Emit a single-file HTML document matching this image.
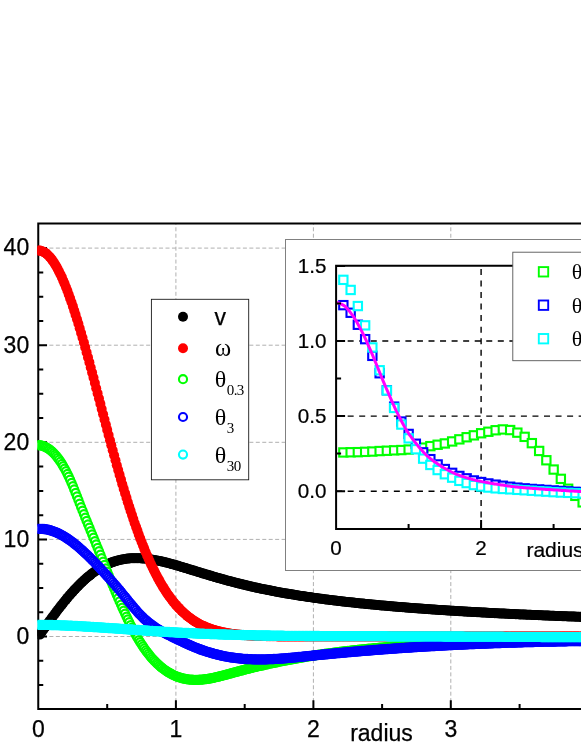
<!DOCTYPE html>
<html><head><meta charset="utf-8"><title>chart</title>
<style>html,body{margin:0;padding:0;background:#fff}svg{display:block;will-change:transform}</style></head>
<body>
<svg width="581" height="752" viewBox="0 0 581 752" style="display:block">
<defs>
<marker id="mk" markerUnits="userSpaceOnUse" markerWidth="14" markerHeight="14" refX="7" refY="7" viewBox="0 0 14 14"><circle cx="7" cy="7" r="5" fill="#000" stroke="none" stroke-width="0"/></marker>
<marker id="mr" markerUnits="userSpaceOnUse" markerWidth="14" markerHeight="14" refX="7" refY="7" viewBox="0 0 14 14"><circle cx="7" cy="7" r="5" fill="#f00" stroke="none" stroke-width="0"/></marker>
<marker id="mg" markerUnits="userSpaceOnUse" markerWidth="14" markerHeight="14" refX="7" refY="7" viewBox="0 0 14 14"><circle cx="7" cy="7" r="4.0" fill="#fff" stroke="#0f0" stroke-width="2.25"/></marker>
<marker id="mb" markerUnits="userSpaceOnUse" markerWidth="14" markerHeight="14" refX="7" refY="7" viewBox="0 0 14 14"><circle cx="7" cy="7" r="4.0" fill="#fff" stroke="#00f" stroke-width="2.3"/></marker>
<marker id="mc" markerUnits="userSpaceOnUse" markerWidth="14" markerHeight="14" refX="7" refY="7" viewBox="0 0 14 14"><circle cx="7" cy="7" r="4.0" fill="#fff" stroke="#0ff" stroke-width="2.3"/></marker>
<clipPath id="cpm"><rect x="37.45" y="222.79999999999998" width="581" height="487.1"/></clipPath>
<clipPath id="cpi"><rect x="336.1" y="265.8" width="581" height="263.2"/></clipPath>
</defs>
<rect width="581" height="752" fill="#fff"/>
<path d="M38.25 636.5H581M38.25 539.4H581M38.25 442.3H581M38.25 345.2H581M38.25 248.1H581" fill="none" stroke="#b0b0b0" stroke-width="1" stroke-dasharray="4 2.45" stroke-dashoffset="1.75"/>
<path d="M175.9 709.1V223.6M313.4 709.1V223.6M450.8 709.1V223.6" fill="none" stroke="#b0b0b0" stroke-width="1" stroke-dasharray="4 2.45" stroke-dashoffset="5.95"/>
<path d="M38.25 685.1h5M38.25 660.8h5M38.25 636.5h8.8M38.25 612.3h5M38.25 588.0h5M38.25 563.7h5M38.25 539.4h8.8M38.25 515.2h5M38.25 490.9h5M38.25 466.6h5M38.25 442.3h8.8M38.25 418.1h5M38.25 393.8h5M38.25 369.5h5M38.25 345.2h8.8M38.25 320.9h5M38.25 296.7h5M38.25 272.4h5M38.25 248.1h8.8M107.2 709.1v-5M175.9 709.1v-8.8M244.7 709.1v-5M313.4 709.1v-8.8M382.1 709.1v-5M450.8 709.1v-8.8M519.6 709.1v-5M588.3 709.1v-8.8" fill="none" stroke="#000" stroke-width="2"/>
<path d="M586 223.6H38.25V709.1H586" fill="none" stroke="#000" stroke-width="2" stroke-linejoin="miter"/>
<g clip-path="url(#cpm)">
<polyline fill="none" stroke="none" points="39.9,634.6 41.2,632.7 42.6,630.7 44.0,628.8 45.4,626.9 46.7,624.9 48.1,623.0 49.5,621.1 50.9,619.2 52.2,617.4 53.6,615.5 55.0,613.7 56.4,611.8 57.7,610.0 59.1,608.2 60.5,606.4 61.9,604.7 63.2,603.0 64.6,601.3 66.0,599.6 67.4,597.9 68.7,596.3 70.1,594.7 71.5,593.1 72.9,591.6 74.2,590.1 75.6,588.6 77.0,587.2 78.4,585.8 79.7,584.4 81.1,583.0 82.5,581.7 83.9,580.4 85.2,579.2 86.6,578.0 88.0,576.8 89.4,575.7 90.7,574.6 92.1,573.5 93.5,572.5 94.9,571.5 96.2,570.6 97.6,569.7 99.0,568.8 100.4,568.0 101.7,567.2 103.1,566.4 104.5,565.7 105.9,565.0 107.2,564.3 108.6,563.7 110.0,563.1 111.3,562.6 112.7,562.1 114.1,561.6 115.5,561.2 116.8,560.8 118.2,560.4 119.6,560.0 121.0,559.7 122.3,559.4 123.7,559.2 125.1,559.0 126.5,558.8 127.8,558.6 129.2,558.5 130.6,558.3 132.0,558.3 133.3,558.2 134.7,558.2 136.1,558.2 137.5,558.2 138.8,558.2 140.2,558.3 141.6,558.4 143.0,558.5 144.3,558.6 145.7,558.7 147.1,558.9 148.5,559.0 149.8,559.2 151.2,559.4 152.6,559.7 154.0,559.9 155.3,560.2 156.7,560.4 158.1,560.7 159.5,561.0 160.8,561.3 162.2,561.6 163.6,561.9 165.0,562.3 166.3,562.6 167.7,563.0 169.1,563.3 170.5,563.7 171.8,564.1 173.2,564.5 174.6,564.8 175.9,565.2 177.3,565.6 178.7,566.0 180.1,566.4 181.4,566.9 182.8,567.3 184.2,567.7 185.6,568.1 186.9,568.5 188.3,568.9 189.7,569.4 191.1,569.8 192.4,570.2 193.8,570.6 195.2,571.0 196.6,571.5 197.9,571.9 199.3,572.3 200.7,572.7 202.1,573.2 203.4,573.6 204.8,574.0 206.2,574.4 207.6,574.8 208.9,575.2 210.3,575.6 211.7,576.1 213.1,576.5 214.4,576.9 215.8,577.3 217.2,577.7 218.6,578.1 219.9,578.5 221.3,578.8 222.7,579.2 224.1,579.6 225.4,580.0 226.8,580.4 228.2,580.7 229.6,581.1 230.9,581.5 232.3,581.8 233.7,582.2 235.1,582.5 236.4,582.9 237.8,583.3 239.2,583.6 240.6,583.9 241.9,584.3 243.3,584.6 244.7,584.9 246.0,585.3 247.4,585.6 248.8,585.9 250.2,586.2 251.5,586.6 252.9,586.9 254.3,587.2 255.7,587.5 257.0,587.8 258.4,588.1 259.8,588.4 261.2,588.7 262.5,589.0 263.9,589.2 265.3,589.5 266.7,589.8 268.0,590.1 269.4,590.3 270.8,590.6 272.2,590.9 273.5,591.1 274.9,591.4 276.3,591.7 277.7,591.9 279.0,592.2 280.4,592.4 281.8,592.7 283.2,592.9 284.5,593.2 285.9,593.4 287.3,593.6 288.7,593.9 290.0,594.1 291.4,594.3 292.8,594.6 294.2,594.8 295.5,595.0 296.9,595.2 298.3,595.5 299.7,595.7 301.0,595.9 302.4,596.1 303.8,596.3 305.2,596.5 306.5,596.7 307.9,596.9 309.3,597.1 310.7,597.3 312.0,597.5 313.4,597.7 314.8,597.9 316.1,598.1 317.5,598.3 318.9,598.5 320.3,598.7 321.6,598.8 323.0,599.0 324.4,599.2 325.8,599.4 327.1,599.6 328.5,599.7 329.9,599.9 331.3,600.1 332.6,600.2 334.0,600.4 335.4,600.6 336.8,600.7 338.1,600.9 339.5,601.1 340.9,601.2 342.3,601.4 343.6,601.6 345.0,601.7 346.4,601.9 347.8,602.0 349.1,602.2 350.5,602.3 351.9,602.5 353.3,602.6 354.6,602.8 356.0,602.9 357.4,603.1 358.8,603.2 360.1,603.4 361.5,603.5 362.9,603.6 364.3,603.8 365.6,603.9 367.0,604.0 368.4,604.2 369.8,604.3 371.1,604.4 372.5,604.6 373.9,604.7 375.3,604.8 376.6,605.0 378.0,605.1 379.4,605.2 380.8,605.4 382.1,605.5 383.5,605.6 384.9,605.7 386.2,605.8 387.6,606.0 389.0,606.1 390.4,606.2 391.7,606.3 393.1,606.4 394.5,606.6 395.9,606.7 397.2,606.8 398.6,606.9 400.0,607.0 401.4,607.1 402.7,607.2 404.1,607.3 405.5,607.5 406.9,607.6 408.2,607.7 409.6,607.8 411.0,607.9 412.4,608.0 413.7,608.1 415.1,608.2 416.5,608.3 417.9,608.4 419.2,608.5 420.6,608.6 422.0,608.7 423.4,608.8 424.7,608.9 426.1,609.0 427.5,609.1 428.9,609.2 430.2,609.3 431.6,609.4 433.0,609.5 434.4,609.6 435.7,609.7 437.1,609.8 438.5,609.9 439.9,609.9 441.2,610.0 442.6,610.1 444.0,610.2 445.4,610.3 446.7,610.4 448.1,610.5 449.5,610.6 450.8,610.7 452.2,610.7 453.6,610.8 455.0,610.9 456.3,611.0 457.7,611.1 459.1,611.2 460.5,611.2 461.8,611.3 463.2,611.4 464.6,611.5 466.0,611.6 467.3,611.7 468.7,611.7 470.1,611.8 471.5,611.9 472.8,612.0 474.2,612.0 475.6,612.1 477.0,612.2 478.3,612.3 479.7,612.3 481.1,612.4 482.5,612.5 483.8,612.6 485.2,612.6 486.6,612.7 488.0,612.8 489.3,612.9 490.7,612.9 492.1,613.0 493.5,613.1 494.8,613.2 496.2,613.2 497.6,613.3 499.0,613.4 500.3,613.4 501.7,613.5 503.1,613.6 504.5,613.6 505.8,613.7 507.2,613.8 508.6,613.8 510.0,613.9 511.3,614.0 512.7,614.0 514.1,614.1 515.5,614.2 516.8,614.2 518.2,614.3 519.6,614.4 520.9,614.4 522.3,614.5 523.7,614.5 525.1,614.6 526.4,614.7 527.8,614.7 529.2,614.8 530.6,614.8 531.9,614.9 533.3,615.0 534.7,615.0 536.1,615.1 537.4,615.1 538.8,615.2 540.2,615.3 541.6,615.3 542.9,615.4 544.3,615.4 545.7,615.5 547.1,615.6 548.4,615.6 549.8,615.7 551.2,615.7 552.6,615.8 553.9,615.8 555.3,615.9 556.7,615.9 558.1,616.0 559.4,616.1 560.8,616.1 562.2,616.2 563.6,616.2 564.9,616.3 566.3,616.3 567.7,616.4 569.1,616.4 570.4,616.5 571.8,616.5 573.2,616.6 574.6,616.6 575.9,616.7 577.3,616.7 578.7,616.8 580.1,616.8 581.4,616.9 582.8,616.9 584.2,617.0 585.6,617.0 586.9,617.1 588.3,617.1" marker-start="url(#mk)" marker-mid="url(#mk)" marker-end="url(#mk)"/>
<polyline fill="none" stroke="none" points="38.5,250.5 39.9,250.6 41.2,250.9 42.6,251.4 44.0,252.1 45.4,252.9 46.7,254.0 48.1,255.2 49.5,256.7 50.9,258.3 52.2,260.1 53.6,262.0 55.0,264.2 56.4,266.5 57.7,269.0 59.1,271.7 60.5,274.5 61.9,277.4 63.2,280.6 64.6,283.8 66.0,287.3 67.4,290.8 68.7,294.5 70.1,298.4 71.5,302.3 72.9,306.4 74.2,310.6 75.6,314.9 77.0,319.2 78.4,323.7 79.7,328.3 81.1,333.0 82.5,337.7 83.9,342.5 85.2,347.4 86.6,352.4 88.0,357.4 89.4,362.4 90.7,367.5 92.1,372.6 93.5,377.8 94.9,383.0 96.2,388.2 97.6,393.4 99.0,398.6 100.4,403.9 101.7,409.1 103.1,414.3 104.5,419.6 105.9,424.8 107.2,429.9 108.6,435.1 110.0,440.2 111.3,445.3 112.7,450.3 114.1,455.3 115.5,460.3 116.8,465.2 118.2,470.1 119.6,474.9 121.0,479.6 122.3,484.3 123.7,488.9 125.1,493.4 126.5,497.9 127.8,502.3 129.2,506.6 130.6,510.9 132.0,515.1 133.3,519.1 134.7,523.2 136.1,527.1 137.5,530.9 138.8,534.7 140.2,538.4 141.6,542.0 143.0,545.5 144.3,548.9 145.7,552.2 147.1,555.5 148.5,558.6 149.8,561.7 151.2,564.7 152.6,567.6 154.0,570.4 155.3,573.1 156.7,575.8 158.1,578.4 159.5,580.9 160.8,583.3 162.2,585.6 163.6,587.9 165.0,590.0 166.3,592.1 167.7,594.2 169.1,596.1 170.5,598.0 171.8,599.8 173.2,601.6 174.6,603.2 175.9,604.9 177.3,606.4 178.7,607.9 180.1,609.3 181.4,610.7 182.8,612.0 184.2,613.3 185.6,614.5 186.9,615.6 188.3,616.8 189.7,617.8 191.1,618.8 192.4,619.8 193.8,620.7 195.2,621.6 196.6,622.4 197.9,623.2 199.3,624.0 200.7,624.7 202.1,625.4 203.4,626.0 204.8,626.6 206.2,627.2 207.6,627.8 208.9,628.3 210.3,628.8 211.7,629.3 213.1,629.7 214.4,630.1 215.8,630.5 217.2,630.9 218.6,631.3 219.9,631.6 221.3,631.9 222.7,632.2 224.1,632.5 225.4,632.8 226.8,633.0 228.2,633.2 229.6,633.5 230.9,633.7 232.3,633.9 233.7,634.1 235.1,634.2 236.4,634.4 237.8,634.5 239.2,634.7 240.6,634.8 241.9,634.9 243.3,635.0 244.7,635.2 246.0,635.3 247.4,635.4 248.8,635.4 250.2,635.5 251.5,635.6 252.9,635.7 254.3,635.7 255.7,635.8 257.0,635.9 258.4,635.9 259.8,636.0 261.2,636.0 262.5,636.0 263.9,636.1 265.3,636.1 266.7,636.2 268.0,636.2 269.4,636.2 270.8,636.2 272.2,636.3 273.5,636.3 274.9,636.3 276.3,636.3 277.7,636.4 279.0,636.4 280.4,636.4 281.8,636.4 283.2,636.4 284.5,636.4 285.9,636.4 287.3,636.4 288.7,636.5 290.0,636.5 291.4,636.5 292.8,636.5 294.2,636.5 295.5,636.5 296.9,636.5 298.3,636.5 299.7,636.5 301.0,636.5 302.4,636.5 303.8,636.5 305.2,636.5 306.5,636.5 307.9,636.5 309.3,636.5 310.7,636.5 312.0,636.5 313.4,636.5 314.8,636.5 316.1,636.5 317.5,636.5 318.9,636.5 320.3,636.5 321.6,636.5 323.0,636.5 324.4,636.5 325.8,636.5 327.1,636.5 328.5,636.5 329.9,636.5 331.3,636.5 332.6,636.5 334.0,636.5 335.4,636.5 336.8,636.5 338.1,636.5 339.5,636.5 340.9,636.5 342.3,636.5 343.6,636.5 345.0,636.5 346.4,636.5 347.8,636.5 349.1,636.5 350.5,636.5 351.9,636.5 353.3,636.5 354.6,636.5 356.0,636.5 357.4,636.5 358.8,636.5 360.1,636.5 361.5,636.5 362.9,636.5 364.3,636.5 365.6,636.5 367.0,636.5 368.4,636.5 369.8,636.5 371.1,636.5 372.5,636.5 373.9,636.5 375.3,636.5 376.6,636.5 378.0,636.5 379.4,636.5 380.8,636.5 382.1,636.5 383.5,636.5 384.9,636.5 386.2,636.5 387.6,636.5 389.0,636.5 390.4,636.5 391.7,636.5 393.1,636.5 394.5,636.5 395.9,636.5 397.2,636.5 398.6,636.5 400.0,636.5 401.4,636.5 402.7,636.5 404.1,636.5 405.5,636.5 406.9,636.5 408.2,636.5 409.6,636.5 411.0,636.5 412.4,636.5 413.7,636.5 415.1,636.5 416.5,636.5 417.9,636.5 419.2,636.5 420.6,636.5 422.0,636.5 423.4,636.5 424.7,636.5 426.1,636.5 427.5,636.5 428.9,636.5 430.2,636.5 431.6,636.5 433.0,636.5 434.4,636.5 435.7,636.5 437.1,636.5 438.5,636.5 439.9,636.5 441.2,636.5 442.6,636.5 444.0,636.5 445.4,636.5 446.7,636.5 448.1,636.5 449.5,636.5 450.8,636.5 452.2,636.5 453.6,636.5 455.0,636.5 456.3,636.5 457.7,636.5 459.1,636.5 460.5,636.5 461.8,636.5 463.2,636.5 464.6,636.5 466.0,636.5 467.3,636.5 468.7,636.5 470.1,636.5 471.5,636.5 472.8,636.5 474.2,636.5 475.6,636.5 477.0,636.5 478.3,636.5 479.7,636.5 481.1,636.5 482.5,636.5 483.8,636.5 485.2,636.5 486.6,636.5 488.0,636.5 489.3,636.5 490.7,636.5 492.1,636.5 493.5,636.5 494.8,636.5 496.2,636.5 497.6,636.5 499.0,636.5 500.3,636.5 501.7,636.5 503.1,636.5 504.5,636.5 505.8,636.5 507.2,636.5 508.6,636.5 510.0,636.5 511.3,636.5 512.7,636.5 514.1,636.5 515.5,636.5 516.8,636.5 518.2,636.5 519.6,636.5 520.9,636.5 522.3,636.5 523.7,636.5 525.1,636.5 526.4,636.5 527.8,636.5 529.2,636.5 530.6,636.5 531.9,636.5 533.3,636.5 534.7,636.5 536.1,636.5 537.4,636.5 538.8,636.5 540.2,636.5 541.6,636.5 542.9,636.5 544.3,636.5 545.7,636.5 547.1,636.5 548.4,636.5 549.8,636.5 551.2,636.5 552.6,636.5 553.9,636.5 555.3,636.5 556.7,636.5 558.1,636.5 559.4,636.5 560.8,636.5 562.2,636.5 563.6,636.5 564.9,636.5 566.3,636.5 567.7,636.5 569.1,636.5 570.4,636.5 571.8,636.5 573.2,636.5 574.6,636.5 575.9,636.5 577.3,636.5 578.7,636.5 580.1,636.5 581.4,636.5 582.8,636.5 584.2,636.5 585.6,636.5 586.9,636.5 588.3,636.5" marker-start="url(#mr)" marker-mid="url(#mr)" marker-end="url(#mr)"/>
<polyline fill="none" stroke="none" points="38.5,445.0 39.9,445.2 41.2,445.4 42.6,445.8 44.0,446.3 45.4,446.9 46.7,447.6 48.1,448.5 49.5,449.4 50.9,450.5 52.2,451.7 53.6,453.0 55.0,454.5 56.4,456.1 57.7,457.8 59.1,459.7 60.5,461.7 61.9,463.8 63.2,466.1 64.6,468.5 66.0,471.0 67.4,473.8 68.7,476.6 70.1,479.6 71.5,482.8 72.9,486.1 74.2,489.4 75.6,492.9 77.0,496.4 78.4,499.9 79.7,503.5 81.1,507.0 82.5,510.5 83.9,514.0 85.2,517.5 86.6,520.9 88.0,524.3 89.4,527.6 90.7,531.0 92.1,534.3 93.5,537.7 94.9,541.0 96.2,544.4 97.6,547.8 99.0,551.2 100.4,554.6 101.7,558.1 103.1,561.5 104.5,564.9 105.9,568.3 107.2,571.7 108.6,575.1 110.0,578.5 111.3,581.8 112.7,585.2 114.1,588.5 115.5,591.8 116.8,595.0 118.2,598.2 119.6,601.4 121.0,604.5 122.3,607.6 123.7,610.6 125.1,613.6 126.5,616.6 127.8,619.4 129.2,622.2 130.6,625.0 132.0,627.7 133.3,630.3 134.7,632.8 136.1,635.3 137.5,637.7 138.8,640.0 140.2,642.2 141.6,644.3 143.0,646.4 144.3,648.4 145.7,650.3 147.1,652.2 148.5,653.9 149.8,655.6 151.2,657.3 152.6,658.8 154.0,660.3 155.3,661.7 156.7,663.1 158.1,664.4 159.5,665.6 160.8,666.8 162.2,667.9 163.6,669.0 165.0,670.0 166.3,670.9 167.7,671.8 169.1,672.7 170.5,673.4 171.8,674.2 173.2,674.9 174.6,675.5 175.9,676.1 177.3,676.6 178.7,677.1 180.1,677.5 181.4,677.9 182.8,678.3 184.2,678.6 185.6,678.9 186.9,679.1 188.3,679.3 189.7,679.5 191.1,679.6 192.4,679.7 193.8,679.8 195.2,679.8 196.6,679.8 197.9,679.8 199.3,679.7 200.7,679.6 202.1,679.5 203.4,679.4 204.8,679.2 206.2,679.0 207.6,678.8 208.9,678.6 210.3,678.4 211.7,678.1 213.1,677.8 214.4,677.5 215.8,677.2 217.2,676.9 218.6,676.6 219.9,676.2 221.3,675.9 222.7,675.5 224.1,675.2 225.4,674.8 226.8,674.4 228.2,674.0 229.6,673.7 230.9,673.3 232.3,672.9 233.7,672.5 235.1,672.1 236.4,671.8 237.8,671.4 239.2,671.0 240.6,670.7 241.9,670.3 243.3,670.0 244.7,669.6 246.0,669.2 247.4,668.9 248.8,668.6 250.2,668.2 251.5,667.9 252.9,667.5 254.3,667.2 255.7,666.9 257.0,666.5 258.4,666.2 259.8,665.9 261.2,665.6 262.5,665.3 263.9,665.0 265.3,664.7 266.7,664.3 268.0,664.0 269.4,663.7 270.8,663.4 272.2,663.2 273.5,662.9 274.9,662.6 276.3,662.3 277.7,662.0 279.0,661.7 280.4,661.4 281.8,661.2 283.2,660.9 284.5,660.6 285.9,660.4 287.3,660.1 288.7,659.8 290.0,659.6 291.4,659.3 292.8,659.1 294.2,658.8 295.5,658.6 296.9,658.3 298.3,658.1 299.7,657.8 301.0,657.6 302.4,657.4 303.8,657.1 305.2,656.9 306.5,656.7 307.9,656.4 309.3,656.2 310.7,656.0 312.0,655.8 313.4,655.6 314.8,655.4 316.1,655.1 317.5,654.9 318.9,654.7 320.3,654.5 321.6,654.3 323.0,654.1 324.4,653.9 325.8,653.7 327.1,653.5 328.5,653.4 329.9,653.2 331.3,653.0 332.6,652.8 334.0,652.6 335.4,652.4 336.8,652.3 338.1,652.1 339.5,651.9 340.9,651.7 342.3,651.6 343.6,651.4 345.0,651.2 346.4,651.1 347.8,650.9 349.1,650.8 350.5,650.6 351.9,650.4 353.3,650.3 354.6,650.1 356.0,650.0 357.4,649.8 358.8,649.7 360.1,649.5 361.5,649.4 362.9,649.3 364.3,649.1 365.6,649.0 367.0,648.9 368.4,648.7 369.8,648.6 371.1,648.5 372.5,648.3 373.9,648.2 375.3,648.1 376.6,648.0 378.0,647.8 379.4,647.7 380.8,647.6 382.1,647.5 383.5,647.4 384.9,647.3 386.2,647.2 387.6,647.0 389.0,646.9 390.4,646.8 391.7,646.7 393.1,646.6 394.5,646.5 395.9,646.4 397.2,646.3 398.6,646.2 400.0,646.1 401.4,646.0 402.7,645.9 404.1,645.8 405.5,645.8 406.9,645.7 408.2,645.6 409.6,645.5 411.0,645.4 412.4,645.3 413.7,645.2 415.1,645.2 416.5,645.1 417.9,645.0 419.2,644.9 420.6,644.8 422.0,644.8 423.4,644.7 424.7,644.6 426.1,644.5 427.5,644.5 428.9,644.4 430.2,644.3 431.6,644.3 433.0,644.2 434.4,644.1 435.7,644.1 437.1,644.0 438.5,643.9 439.9,643.9 441.2,643.8 442.6,643.8 444.0,643.7 445.4,643.6 446.7,643.6 448.1,643.5 449.5,643.5 450.8,643.4 452.2,643.4 453.6,643.3 455.0,643.3 456.3,643.2 457.7,643.2 459.1,643.1 460.5,643.1 461.8,643.0 463.2,643.0 464.6,642.9 466.0,642.9 467.3,642.8 468.7,642.8 470.1,642.7 471.5,642.7 472.8,642.7 474.2,642.6 475.6,642.6 477.0,642.5 478.3,642.5 479.7,642.4 481.1,642.4 482.5,642.4 483.8,642.3 485.2,642.3 486.6,642.3 488.0,642.2 489.3,642.2 490.7,642.1 492.1,642.1 493.5,642.1 494.8,642.0 496.2,642.0 497.6,642.0 499.0,641.9 500.3,641.9 501.7,641.9 503.1,641.8 504.5,641.8 505.8,641.8 507.2,641.7 508.6,641.7 510.0,641.7 511.3,641.6 512.7,641.6 514.1,641.6 515.5,641.5 516.8,641.5 518.2,641.5 519.6,641.4 520.9,641.4 522.3,641.4 523.7,641.3 525.1,641.3 526.4,641.3 527.8,641.2 529.2,641.2 530.6,641.2 531.9,641.2 533.3,641.1 534.7,641.1 536.1,641.1 537.4,641.0 538.8,641.0 540.2,641.0 541.6,640.9 542.9,640.9 544.3,640.9 545.7,640.8 547.1,640.8 548.4,640.8 549.8,640.7 551.2,640.7 552.6,640.7 553.9,640.6 555.3,640.6 556.7,640.6 558.1,640.5 559.4,640.5 560.8,640.4 562.2,640.4 563.6,640.4 564.9,640.3 566.3,640.3 567.7,640.3 569.1,640.2 570.4,640.2 571.8,640.1 573.2,640.1 574.6,640.0 575.9,640.0 577.3,640.0 578.7,639.9 580.1,639.9 581.4,639.8 582.8,639.8 584.2,639.7 585.6,639.7 586.9,639.6 588.3,639.6" marker-start="url(#mg)" marker-mid="url(#mg)" marker-end="url(#mg)"/>
<polyline fill="none" stroke="none" points="38.5,528.8 39.9,528.8 41.2,528.8 42.6,528.9 44.0,529.0 45.4,529.2 46.7,529.4 48.1,529.7 49.5,530.0 50.9,530.4 52.2,530.8 53.6,531.3 55.0,531.8 56.4,532.4 57.7,533.0 59.1,533.7 60.5,534.4 61.9,535.1 63.2,535.9 64.6,536.7 66.0,537.6 67.4,538.5 68.7,539.4 70.1,540.4 71.5,541.4 72.9,542.4 74.2,543.5 75.6,544.6 77.0,545.7 78.4,546.9 79.7,548.1 81.1,549.3 82.5,550.5 83.9,551.8 85.2,553.1 86.6,554.4 88.0,555.7 89.4,557.1 90.7,558.4 92.1,559.8 93.5,561.2 94.9,562.6 96.2,564.1 97.6,565.5 99.0,567.0 100.4,568.5 101.7,570.0 103.1,571.4 104.5,573.0 105.9,574.5 107.2,576.0 108.6,577.5 110.0,579.1 111.3,580.6 112.7,582.2 114.1,583.8 115.5,585.3 116.8,587.0 118.2,588.6 119.6,590.2 121.0,591.9 122.3,593.6 123.7,595.3 125.1,597.0 126.5,598.7 127.8,600.4 129.2,602.1 130.6,603.7 132.0,605.4 133.3,607.0 134.7,608.6 136.1,610.2 137.5,611.8 138.8,613.3 140.2,614.7 141.6,616.1 143.0,617.5 144.3,618.8 145.7,620.0 147.1,621.2 148.5,622.3 149.8,623.4 151.2,624.5 152.6,625.5 154.0,626.5 155.3,627.4 156.7,628.3 158.1,629.2 159.5,630.0 160.8,630.8 162.2,631.6 163.6,632.4 165.0,633.1 166.3,633.8 167.7,634.5 169.1,635.2 170.5,635.9 171.8,636.6 173.2,637.3 174.6,637.9 175.9,638.6 177.3,639.3 178.7,639.9 180.1,640.6 181.4,641.2 182.8,641.9 184.2,642.5 185.6,643.2 186.9,643.8 188.3,644.4 189.7,645.0 191.1,645.6 192.4,646.2 193.8,646.8 195.2,647.4 196.6,647.9 197.9,648.4 199.3,649.0 200.7,649.5 202.1,650.0 203.4,650.4 204.8,650.9 206.2,651.4 207.6,651.8 208.9,652.2 210.3,652.6 211.7,653.0 213.1,653.4 214.4,653.8 215.8,654.2 217.2,654.5 218.6,654.9 219.9,655.2 221.3,655.5 222.7,655.8 224.1,656.1 225.4,656.3 226.8,656.6 228.2,656.8 229.6,657.1 230.9,657.3 232.3,657.5 233.7,657.7 235.1,657.9 236.4,658.1 237.8,658.2 239.2,658.4 240.6,658.5 241.9,658.6 243.3,658.8 244.7,658.9 246.0,659.0 247.4,659.0 248.8,659.1 250.2,659.2 251.5,659.2 252.9,659.3 254.3,659.3 255.7,659.3 257.0,659.4 258.4,659.4 259.8,659.4 261.2,659.4 262.5,659.4 263.9,659.3 265.3,659.3 266.7,659.3 268.0,659.2 269.4,659.2 270.8,659.1 272.2,659.1 273.5,659.0 274.9,658.9 276.3,658.9 277.7,658.8 279.0,658.7 280.4,658.6 281.8,658.5 283.2,658.4 284.5,658.3 285.9,658.2 287.3,658.1 288.7,657.9 290.0,657.8 291.4,657.7 292.8,657.6 294.2,657.4 295.5,657.3 296.9,657.2 298.3,657.0 299.7,656.9 301.0,656.8 302.4,656.6 303.8,656.5 305.2,656.3 306.5,656.2 307.9,656.1 309.3,655.9 310.7,655.8 312.0,655.6 313.4,655.5 314.8,655.4 316.1,655.2 317.5,655.1 318.9,654.9 320.3,654.8 321.6,654.7 323.0,654.5 324.4,654.4 325.8,654.3 327.1,654.1 328.5,654.0 329.9,653.9 331.3,653.7 332.6,653.6 334.0,653.5 335.4,653.3 336.8,653.2 338.1,653.1 339.5,653.0 340.9,652.8 342.3,652.7 343.6,652.6 345.0,652.5 346.4,652.3 347.8,652.2 349.1,652.1 350.5,652.0 351.9,651.9 353.3,651.7 354.6,651.6 356.0,651.5 357.4,651.4 358.8,651.3 360.1,651.1 361.5,651.0 362.9,650.9 364.3,650.8 365.6,650.7 367.0,650.6 368.4,650.5 369.8,650.4 371.1,650.3 372.5,650.1 373.9,650.0 375.3,649.9 376.6,649.8 378.0,649.7 379.4,649.6 380.8,649.5 382.1,649.4 383.5,649.3 384.9,649.2 386.2,649.1 387.6,649.0 389.0,648.9 390.4,648.8 391.7,648.7 393.1,648.6 394.5,648.5 395.9,648.4 397.2,648.3 398.6,648.2 400.0,648.1 401.4,648.0 402.7,647.9 404.1,647.8 405.5,647.7 406.9,647.7 408.2,647.6 409.6,647.5 411.0,647.4 412.4,647.3 413.7,647.2 415.1,647.1 416.5,647.0 417.9,646.9 419.2,646.9 420.6,646.8 422.0,646.7 423.4,646.6 424.7,646.5 426.1,646.4 427.5,646.4 428.9,646.3 430.2,646.2 431.6,646.1 433.0,646.0 434.4,646.0 435.7,645.9 437.1,645.8 438.5,645.7 439.9,645.7 441.2,645.6 442.6,645.5 444.0,645.4 445.4,645.4 446.7,645.3 448.1,645.2 449.5,645.2 450.8,645.1 452.2,645.0 453.6,644.9 455.0,644.9 456.3,644.8 457.7,644.7 459.1,644.7 460.5,644.6 461.8,644.5 463.2,644.5 464.6,644.4 466.0,644.4 467.3,644.3 468.7,644.2 470.1,644.2 471.5,644.1 472.8,644.0 474.2,644.0 475.6,643.9 477.0,643.9 478.3,643.8 479.7,643.8 481.1,643.7 482.5,643.6 483.8,643.6 485.2,643.5 486.6,643.5 488.0,643.4 489.3,643.4 490.7,643.3 492.1,643.3 493.5,643.2 494.8,643.2 496.2,643.1 497.6,643.1 499.0,643.0 500.3,643.0 501.7,642.9 503.1,642.9 504.5,642.8 505.8,642.8 507.2,642.7 508.6,642.7 510.0,642.6 511.3,642.6 512.7,642.5 514.1,642.5 515.5,642.5 516.8,642.4 518.2,642.4 519.6,642.3 520.9,642.3 522.3,642.3 523.7,642.2 525.1,642.2 526.4,642.1 527.8,642.1 529.2,642.1 530.6,642.0 531.9,642.0 533.3,642.0 534.7,641.9 536.1,641.9 537.4,641.9 538.8,641.8 540.2,641.8 541.6,641.8 542.9,641.7 544.3,641.7 545.7,641.7 547.1,641.6 548.4,641.6 549.8,641.6 551.2,641.5 552.6,641.5 553.9,641.5 555.3,641.5 556.7,641.4 558.1,641.4 559.4,641.4 560.8,641.4 562.2,641.3 563.6,641.3 564.9,641.3 566.3,641.3 567.7,641.2 569.1,641.2 570.4,641.2 571.8,641.2 573.2,641.1 574.6,641.1 575.9,641.1 577.3,641.1 578.7,641.1 580.1,641.1 581.4,641.0 582.8,641.0 584.2,641.0 585.6,641.0 586.9,641.0 588.3,641.0" marker-start="url(#mb)" marker-mid="url(#mb)" marker-end="url(#mb)"/>
<polyline fill="none" stroke="none" points="38.5,624.8 39.9,624.8 41.2,624.8 42.6,624.8 44.0,624.8 45.4,624.9 46.7,624.9 48.1,624.9 49.5,624.9 50.9,625.0 52.2,625.0 53.6,625.1 55.0,625.1 56.4,625.1 57.7,625.2 59.1,625.2 60.5,625.3 61.9,625.3 63.2,625.4 64.6,625.4 66.0,625.5 67.4,625.6 68.7,625.6 70.1,625.7 71.5,625.7 72.9,625.8 74.2,625.9 75.6,625.9 77.0,626.0 78.4,626.1 79.7,626.2 81.1,626.2 82.5,626.3 83.9,626.4 85.2,626.5 86.6,626.6 88.0,626.6 89.4,626.7 90.7,626.8 92.1,626.9 93.5,627.0 94.9,627.1 96.2,627.1 97.6,627.2 99.0,627.3 100.4,627.4 101.7,627.5 103.1,627.6 104.5,627.7 105.9,627.8 107.2,627.9 108.6,628.0 110.0,628.1 111.3,628.1 112.7,628.2 114.1,628.3 115.5,628.4 116.8,628.5 118.2,628.6 119.6,628.7 121.0,628.8 122.3,628.9 123.7,629.0 125.1,629.1 126.5,629.2 127.8,629.3 129.2,629.4 130.6,629.5 132.0,629.6 133.3,629.7 134.7,629.8 136.1,629.9 137.5,630.0 138.8,630.0 140.2,630.1 141.6,630.2 143.0,630.3 144.3,630.4 145.7,630.5 147.1,630.6 148.5,630.7 149.8,630.8 151.2,630.9 152.6,631.0 154.0,631.1 155.3,631.2 156.7,631.2 158.1,631.3 159.5,631.4 160.8,631.5 162.2,631.6 163.6,631.7 165.0,631.8 166.3,631.8 167.7,631.9 169.1,632.0 170.5,632.1 171.8,632.2 173.2,632.2 174.6,632.3 175.9,632.4 177.3,632.5 178.7,632.6 180.1,632.6 181.4,632.7 182.8,632.8 184.2,632.8 185.6,632.9 186.9,633.0 188.3,633.0 189.7,633.1 191.1,633.2 192.4,633.2 193.8,633.3 195.2,633.4 196.6,633.4 197.9,633.5 199.3,633.6 200.7,633.6 202.1,633.7 203.4,633.7 204.8,633.8 206.2,633.8 207.6,633.9 208.9,633.9 210.3,634.0 211.7,634.0 213.1,634.1 214.4,634.1 215.8,634.2 217.2,634.2 218.6,634.3 219.9,634.3 221.3,634.4 222.7,634.4 224.1,634.5 225.4,634.5 226.8,634.6 228.2,634.6 229.6,634.6 230.9,634.7 232.3,634.7 233.7,634.8 235.1,634.8 236.4,634.8 237.8,634.9 239.2,634.9 240.6,634.9 241.9,635.0 243.3,635.0 244.7,635.1 246.0,635.1 247.4,635.1 248.8,635.1 250.2,635.2 251.5,635.2 252.9,635.2 254.3,635.3 255.7,635.3 257.0,635.3 258.4,635.3 259.8,635.4 261.2,635.4 262.5,635.4 263.9,635.5 265.3,635.5 266.7,635.5 268.0,635.5 269.4,635.5 270.8,635.6 272.2,635.6 273.5,635.6 274.9,635.6 276.3,635.6 277.7,635.7 279.0,635.7 280.4,635.7 281.8,635.7 283.2,635.7 284.5,635.8 285.9,635.8 287.3,635.8 288.7,635.8 290.0,635.8 291.4,635.8 292.8,635.8 294.2,635.9 295.5,635.9 296.9,635.9 298.3,635.9 299.7,635.9 301.0,635.9 302.4,635.9 303.8,635.9 305.2,636.0 306.5,636.0 307.9,636.0 309.3,636.0 310.7,636.0 312.0,636.0 313.4,636.0 314.8,636.0 316.1,636.0 317.5,636.0 318.9,636.0 320.3,636.1 321.6,636.1 323.0,636.1 324.4,636.1 325.8,636.1 327.1,636.1 328.5,636.1 329.9,636.1 331.3,636.1 332.6,636.1 334.0,636.1 335.4,636.1 336.8,636.1 338.1,636.1 339.5,636.1 340.9,636.1 342.3,636.1 343.6,636.1 345.0,636.2 346.4,636.2 347.8,636.2 349.1,636.2 350.5,636.2 351.9,636.2 353.3,636.2 354.6,636.2 356.0,636.2 357.4,636.2 358.8,636.2 360.1,636.2 361.5,636.2 362.9,636.2 364.3,636.2 365.6,636.2 367.0,636.2 368.4,636.2 369.8,636.2 371.1,636.2 372.5,636.2 373.9,636.2 375.3,636.2 376.6,636.2 378.0,636.2 379.4,636.2 380.8,636.2 382.1,636.2 383.5,636.2 384.9,636.2 386.2,636.2 387.6,636.3 389.0,636.3 390.4,636.3 391.7,636.3 393.1,636.3 394.5,636.3 395.9,636.3 397.2,636.3 398.6,636.3 400.0,636.3 401.4,636.3 402.7,636.3 404.1,636.3 405.5,636.3 406.9,636.3 408.2,636.3 409.6,636.3 411.0,636.3 412.4,636.3 413.7,636.3 415.1,636.3 416.5,636.3 417.9,636.3 419.2,636.4 420.6,636.4 422.0,636.4 423.4,636.4 424.7,636.4 426.1,636.4 427.5,636.4 428.9,636.4 430.2,636.4 431.6,636.4 433.0,636.4 434.4,636.4 435.7,636.4 437.1,636.4 438.5,636.4 439.9,636.4 441.2,636.4 442.6,636.4 444.0,636.5 445.4,636.5 446.7,636.5 448.1,636.5 449.5,636.5 450.8,636.5 452.2,636.5 453.6,636.5 455.0,636.5 456.3,636.5 457.7,636.5 459.1,636.5 460.5,636.5 461.8,636.5 463.2,636.5 464.6,636.6 466.0,636.6 467.3,636.6 468.7,636.6 470.1,636.6 471.5,636.6 472.8,636.6 474.2,636.6 475.6,636.6 477.0,636.6 478.3,636.6 479.7,636.6 481.1,636.6 482.5,636.6 483.8,636.6 485.2,636.7 486.6,636.7 488.0,636.7 489.3,636.7 490.7,636.7 492.1,636.7 493.5,636.7 494.8,636.7 496.2,636.7 497.6,636.7 499.0,636.7 500.3,636.7 501.7,636.7 503.1,636.7 504.5,636.8 505.8,636.8 507.2,636.8 508.6,636.8 510.0,636.8 511.3,636.8 512.7,636.8 514.1,636.8 515.5,636.8 516.8,636.8 518.2,636.8 519.6,636.8 520.9,636.8 522.3,636.9 523.7,636.9 525.1,636.9 526.4,636.9 527.8,636.9 529.2,636.9 530.6,636.9 531.9,636.9 533.3,636.9 534.7,636.9 536.1,636.9 537.4,636.9 538.8,636.9 540.2,636.9 541.6,637.0 542.9,637.0 544.3,637.0 545.7,637.0 547.1,637.0 548.4,637.0 549.8,637.0 551.2,637.0 552.6,637.0 553.9,637.0 555.3,637.0 556.7,637.0 558.1,637.0 559.4,637.0 560.8,637.1 562.2,637.1 563.6,637.1 564.9,637.1 566.3,637.1 567.7,637.1 569.1,637.1 570.4,637.1 571.8,637.1 573.2,637.1 574.6,637.1 575.9,637.1 577.3,637.1 578.7,637.1 580.1,637.1 581.4,637.2 582.8,637.2 584.2,637.2 585.6,637.2 586.9,637.2 588.3,637.2" marker-start="url(#mc)" marker-mid="url(#mc)" marker-end="url(#mc)"/>
</g>
<g font-family="Liberation Sans, sans-serif" font-size="23" fill="#000" stroke="#000" stroke-width="0.25">
<text x="29.2" y="643.8" text-anchor="end">0</text>
<text x="29.2" y="546.7" text-anchor="end">10</text>
<text x="29.2" y="449.6" text-anchor="end">20</text>
<text x="29.2" y="352.5" text-anchor="end">30</text>
<text x="29.2" y="255.4" text-anchor="end">40</text>
<text x="38.5" y="737" text-anchor="middle">0</text>
<text x="175.9" y="737" text-anchor="middle">1</text>
<text x="313.4" y="737" text-anchor="middle">2</text>
<text x="450.8" y="737" text-anchor="middle">3</text>
<text x="381.5" y="741" text-anchor="middle">radius</text>
</g>
<rect x="151.4" y="299.3" width="97.3" height="180.5" fill="#fff" stroke="#1a1a1a" stroke-width="0.9"/>
<circle cx="183" cy="316.8" r="5" fill="#000"/>
<circle cx="183" cy="348.2" r="5" fill="#f00"/>
<circle cx="183" cy="379.2" r="4.05" fill="#fff" stroke="#0f0" stroke-width="2.1"/>
<circle cx="183" cy="417" r="4.05" fill="#fff" stroke="#00f" stroke-width="2.1"/>
<circle cx="183" cy="454.6" r="4.05" fill="#fff" stroke="#0ff" stroke-width="2.1"/>
<text x="214.5" y="324.7" font-family="Liberation Sans, sans-serif" font-size="23" stroke="#000" stroke-width="0.25">v</text>
<g font-family="Liberation Serif, serif" fill="#000">
<text x="215" y="356.2" font-size="24.5">ω</text>
<text x="214.8" y="387.1" font-size="24">θ<tspan font-size="15" letter-spacing="-0.6" dx="0.5" dy="8.3">0.3</tspan></text>
<text x="214.8" y="424.9" font-size="24">θ<tspan font-size="15" letter-spacing="-0.6" dx="0.5" dy="8.3">3</tspan></text>
<text x="214.8" y="462.5" font-size="24">θ<tspan font-size="15" letter-spacing="-0.6" dx="0.5" dy="8.3">30</tspan></text>
</g>
<rect x="285.5" y="239.5" width="320" height="331" fill="#fff" stroke="#808080" stroke-width="1"/>
<path d="M336.1 491.2H581M336.1 416.1H581M336.1 341.0H581M481.1 529.0V265.8" fill="none" stroke="#000" stroke-width="1.4" stroke-dasharray="6 5.55"/>
<g clip-path="url(#cpi)">
<rect x="339.2" y="448.3" width="8.3" height="8.3" fill="#fff" stroke="#0f0" stroke-width="2.1"/>
<rect x="346.5" y="448.1" width="8.3" height="8.3" fill="#fff" stroke="#0f0" stroke-width="2.1"/>
<rect x="353.7" y="448.0" width="8.3" height="8.3" fill="#fff" stroke="#0f0" stroke-width="2.1"/>
<rect x="361.0" y="447.7" width="8.3" height="8.3" fill="#fff" stroke="#0f0" stroke-width="2.1"/>
<rect x="368.2" y="447.4" width="8.3" height="8.3" fill="#fff" stroke="#0f0" stroke-width="2.1"/>
<rect x="375.5" y="446.9" width="8.3" height="8.3" fill="#fff" stroke="#0f0" stroke-width="2.1"/>
<rect x="382.7" y="446.6" width="8.3" height="8.3" fill="#fff" stroke="#0f0" stroke-width="2.1"/>
<rect x="390.0" y="446.2" width="8.3" height="8.3" fill="#fff" stroke="#0f0" stroke-width="2.1"/>
<rect x="397.2" y="445.9" width="8.3" height="8.3" fill="#fff" stroke="#0f0" stroke-width="2.1"/>
<rect x="404.5" y="445.4" width="8.3" height="8.3" fill="#fff" stroke="#0f0" stroke-width="2.1"/>
<rect x="411.7" y="444.7" width="8.3" height="8.3" fill="#fff" stroke="#0f0" stroke-width="2.1"/>
<rect x="419.0" y="443.5" width="8.3" height="8.3" fill="#fff" stroke="#0f0" stroke-width="2.1"/>
<rect x="426.2" y="442.0" width="8.3" height="8.3" fill="#fff" stroke="#0f0" stroke-width="2.1"/>
<rect x="433.5" y="440.6" width="8.3" height="8.3" fill="#fff" stroke="#0f0" stroke-width="2.1"/>
<rect x="440.7" y="439.3" width="8.3" height="8.3" fill="#fff" stroke="#0f0" stroke-width="2.1"/>
<rect x="448.0" y="437.3" width="8.3" height="8.3" fill="#fff" stroke="#0f0" stroke-width="2.1"/>
<rect x="455.2" y="435.2" width="8.3" height="8.3" fill="#fff" stroke="#0f0" stroke-width="2.1"/>
<rect x="462.5" y="433.1" width="8.3" height="8.3" fill="#fff" stroke="#0f0" stroke-width="2.1"/>
<rect x="469.7" y="431.2" width="8.3" height="8.3" fill="#fff" stroke="#0f0" stroke-width="2.1"/>
<rect x="477.0" y="429.1" width="8.3" height="8.3" fill="#fff" stroke="#0f0" stroke-width="2.1"/>
<rect x="484.2" y="427.6" width="8.3" height="8.3" fill="#fff" stroke="#0f0" stroke-width="2.1"/>
<rect x="491.5" y="426.1" width="8.3" height="8.3" fill="#fff" stroke="#0f0" stroke-width="2.1"/>
<rect x="498.7" y="425.3" width="8.3" height="8.3" fill="#fff" stroke="#0f0" stroke-width="2.1"/>
<rect x="506.0" y="425.9" width="8.3" height="8.3" fill="#fff" stroke="#0f0" stroke-width="2.1"/>
<rect x="513.2" y="428.5" width="8.3" height="8.3" fill="#fff" stroke="#0f0" stroke-width="2.1"/>
<rect x="520.5" y="432.7" width="8.3" height="8.3" fill="#fff" stroke="#0f0" stroke-width="2.1"/>
<rect x="527.7" y="439.0" width="8.3" height="8.3" fill="#fff" stroke="#0f0" stroke-width="2.1"/>
<rect x="535.0" y="446.8" width="8.3" height="8.3" fill="#fff" stroke="#0f0" stroke-width="2.1"/>
<rect x="542.2" y="456.1" width="8.3" height="8.3" fill="#fff" stroke="#0f0" stroke-width="2.1"/>
<rect x="549.5" y="465.4" width="8.3" height="8.3" fill="#fff" stroke="#0f0" stroke-width="2.1"/>
<rect x="556.7" y="474.7" width="8.3" height="8.3" fill="#fff" stroke="#0f0" stroke-width="2.1"/>
<rect x="564.0" y="484.6" width="8.3" height="8.3" fill="#fff" stroke="#0f0" stroke-width="2.1"/>
<rect x="571.2" y="491.7" width="8.3" height="8.3" fill="#fff" stroke="#0f0" stroke-width="2.1"/>
<rect x="578.5" y="498.2" width="8.3" height="8.3" fill="#fff" stroke="#0f0" stroke-width="2.1"/>
<rect x="585.7" y="503.6" width="8.3" height="8.3" fill="#fff" stroke="#0f0" stroke-width="2.1"/>
<rect x="339.2" y="301.0" width="8.3" height="8.3" fill="#fff" stroke="#00f" stroke-width="2.1"/>
<rect x="346.5" y="308.6" width="8.3" height="8.3" fill="#fff" stroke="#00f" stroke-width="2.1"/>
<rect x="353.7" y="320.6" width="8.3" height="8.3" fill="#fff" stroke="#00f" stroke-width="2.1"/>
<rect x="361.0" y="335.0" width="8.3" height="8.3" fill="#fff" stroke="#00f" stroke-width="2.1"/>
<rect x="368.2" y="351.7" width="8.3" height="8.3" fill="#fff" stroke="#00f" stroke-width="2.1"/>
<rect x="375.5" y="369.1" width="8.3" height="8.3" fill="#fff" stroke="#00f" stroke-width="2.1"/>
<rect x="382.7" y="386.1" width="8.3" height="8.3" fill="#fff" stroke="#00f" stroke-width="2.1"/>
<rect x="390.0" y="402.5" width="8.3" height="8.3" fill="#fff" stroke="#00f" stroke-width="2.1"/>
<rect x="397.2" y="417.4" width="8.3" height="8.3" fill="#fff" stroke="#00f" stroke-width="2.1"/>
<rect x="404.5" y="429.8" width="8.3" height="8.3" fill="#fff" stroke="#00f" stroke-width="2.1"/>
<rect x="411.7" y="439.6" width="8.3" height="8.3" fill="#fff" stroke="#00f" stroke-width="2.1"/>
<rect x="419.0" y="448.2" width="8.3" height="8.3" fill="#fff" stroke="#00f" stroke-width="2.1"/>
<rect x="426.2" y="455.0" width="8.3" height="8.3" fill="#fff" stroke="#00f" stroke-width="2.1"/>
<rect x="433.5" y="460.3" width="8.3" height="8.3" fill="#fff" stroke="#00f" stroke-width="2.1"/>
<rect x="440.7" y="464.9" width="8.3" height="8.3" fill="#fff" stroke="#00f" stroke-width="2.1"/>
<rect x="448.0" y="468.7" width="8.3" height="8.3" fill="#fff" stroke="#00f" stroke-width="2.1"/>
<rect x="455.2" y="471.8" width="8.3" height="8.3" fill="#fff" stroke="#00f" stroke-width="2.1"/>
<rect x="462.5" y="474.2" width="8.3" height="8.3" fill="#fff" stroke="#00f" stroke-width="2.1"/>
<rect x="469.7" y="476.3" width="8.3" height="8.3" fill="#fff" stroke="#00f" stroke-width="2.1"/>
<rect x="477.0" y="477.9" width="8.3" height="8.3" fill="#fff" stroke="#00f" stroke-width="2.1"/>
<rect x="484.2" y="479.3" width="8.3" height="8.3" fill="#fff" stroke="#00f" stroke-width="2.1"/>
<rect x="491.5" y="480.5" width="8.3" height="8.3" fill="#fff" stroke="#00f" stroke-width="2.1"/>
<rect x="498.7" y="481.6" width="8.3" height="8.3" fill="#fff" stroke="#00f" stroke-width="2.1"/>
<rect x="506.0" y="482.6" width="8.3" height="8.3" fill="#fff" stroke="#00f" stroke-width="2.1"/>
<rect x="513.2" y="483.5" width="8.3" height="8.3" fill="#fff" stroke="#00f" stroke-width="2.1"/>
<rect x="520.5" y="484.2" width="8.3" height="8.3" fill="#fff" stroke="#00f" stroke-width="2.1"/>
<rect x="527.7" y="484.8" width="8.3" height="8.3" fill="#fff" stroke="#00f" stroke-width="2.1"/>
<rect x="535.0" y="485.3" width="8.3" height="8.3" fill="#fff" stroke="#00f" stroke-width="2.1"/>
<rect x="542.2" y="485.8" width="8.3" height="8.3" fill="#fff" stroke="#00f" stroke-width="2.1"/>
<rect x="549.5" y="486.3" width="8.3" height="8.3" fill="#fff" stroke="#00f" stroke-width="2.1"/>
<rect x="556.7" y="486.8" width="8.3" height="8.3" fill="#fff" stroke="#00f" stroke-width="2.1"/>
<rect x="564.0" y="487.2" width="8.3" height="8.3" fill="#fff" stroke="#00f" stroke-width="2.1"/>
<rect x="571.2" y="487.7" width="8.3" height="8.3" fill="#fff" stroke="#00f" stroke-width="2.1"/>
<rect x="578.5" y="488.0" width="8.3" height="8.3" fill="#fff" stroke="#00f" stroke-width="2.1"/>
<rect x="585.7" y="488.3" width="8.3" height="8.3" fill="#fff" stroke="#00f" stroke-width="2.1"/>
<rect x="339.2" y="275.7" width="8.3" height="8.3" fill="#fff" stroke="#0ff" stroke-width="2.1"/>
<rect x="346.5" y="285.8" width="8.3" height="8.3" fill="#fff" stroke="#0ff" stroke-width="2.1"/>
<rect x="353.7" y="301.9" width="8.3" height="8.3" fill="#fff" stroke="#0ff" stroke-width="2.1"/>
<rect x="361.0" y="321.2" width="8.3" height="8.3" fill="#fff" stroke="#0ff" stroke-width="2.1"/>
<rect x="368.2" y="343.3" width="8.3" height="8.3" fill="#fff" stroke="#0ff" stroke-width="2.1"/>
<rect x="375.5" y="366.1" width="8.3" height="8.3" fill="#fff" stroke="#0ff" stroke-width="2.1"/>
<rect x="382.7" y="386.3" width="8.3" height="8.3" fill="#fff" stroke="#0ff" stroke-width="2.1"/>
<rect x="390.0" y="403.8" width="8.3" height="8.3" fill="#fff" stroke="#0ff" stroke-width="2.1"/>
<rect x="397.2" y="420.4" width="8.3" height="8.3" fill="#fff" stroke="#0ff" stroke-width="2.1"/>
<rect x="404.5" y="434.2" width="8.3" height="8.3" fill="#fff" stroke="#0ff" stroke-width="2.1"/>
<rect x="411.7" y="445.1" width="8.3" height="8.3" fill="#fff" stroke="#0ff" stroke-width="2.1"/>
<rect x="419.0" y="454.5" width="8.3" height="8.3" fill="#fff" stroke="#0ff" stroke-width="2.1"/>
<rect x="426.2" y="460.8" width="8.3" height="8.3" fill="#fff" stroke="#0ff" stroke-width="2.1"/>
<rect x="433.5" y="465.9" width="8.3" height="8.3" fill="#fff" stroke="#0ff" stroke-width="2.1"/>
<rect x="440.7" y="470.1" width="8.3" height="8.3" fill="#fff" stroke="#0ff" stroke-width="2.1"/>
<rect x="448.0" y="473.5" width="8.3" height="8.3" fill="#fff" stroke="#0ff" stroke-width="2.1"/>
<rect x="455.2" y="476.7" width="8.3" height="8.3" fill="#fff" stroke="#0ff" stroke-width="2.1"/>
<rect x="462.5" y="478.9" width="8.3" height="8.3" fill="#fff" stroke="#0ff" stroke-width="2.1"/>
<rect x="469.7" y="480.9" width="8.3" height="8.3" fill="#fff" stroke="#0ff" stroke-width="2.1"/>
<rect x="477.0" y="482.4" width="8.3" height="8.3" fill="#fff" stroke="#0ff" stroke-width="2.1"/>
<rect x="484.2" y="483.4" width="8.3" height="8.3" fill="#fff" stroke="#0ff" stroke-width="2.1"/>
<rect x="491.5" y="484.2" width="8.3" height="8.3" fill="#fff" stroke="#0ff" stroke-width="2.1"/>
<rect x="498.7" y="484.8" width="8.3" height="8.3" fill="#fff" stroke="#0ff" stroke-width="2.1"/>
<rect x="506.0" y="485.2" width="8.3" height="8.3" fill="#fff" stroke="#0ff" stroke-width="2.1"/>
<rect x="513.2" y="485.7" width="8.3" height="8.3" fill="#fff" stroke="#0ff" stroke-width="2.1"/>
<rect x="520.5" y="486.1" width="8.3" height="8.3" fill="#fff" stroke="#0ff" stroke-width="2.1"/>
<rect x="527.7" y="486.6" width="8.3" height="8.3" fill="#fff" stroke="#0ff" stroke-width="2.1"/>
<rect x="535.0" y="487.1" width="8.3" height="8.3" fill="#fff" stroke="#0ff" stroke-width="2.1"/>
<rect x="542.2" y="487.5" width="8.3" height="8.3" fill="#fff" stroke="#0ff" stroke-width="2.1"/>
<rect x="549.5" y="488.0" width="8.3" height="8.3" fill="#fff" stroke="#0ff" stroke-width="2.1"/>
<rect x="556.7" y="488.4" width="8.3" height="8.3" fill="#fff" stroke="#0ff" stroke-width="2.1"/>
<rect x="564.0" y="488.7" width="8.3" height="8.3" fill="#fff" stroke="#0ff" stroke-width="2.1"/>
<rect x="571.2" y="489.0" width="8.3" height="8.3" fill="#fff" stroke="#0ff" stroke-width="2.1"/>
<rect x="578.5" y="489.3" width="8.3" height="8.3" fill="#fff" stroke="#0ff" stroke-width="2.1"/>
<rect x="585.7" y="489.5" width="8.3" height="8.3" fill="#fff" stroke="#0ff" stroke-width="2.1"/>
<polyline fill="none" stroke="#f0f" stroke-width="3" points="336.1,302.4 337.4,302.6 338.7,303.0 340.0,303.5 341.3,304.2 342.7,304.9 344.0,305.6 345.3,306.7 346.6,307.9 347.9,309.4 349.2,310.9 350.5,312.6 351.8,314.3 353.2,316.2 354.5,318.2 355.8,320.4 357.1,322.6 358.4,325.0 359.7,327.4 361.0,329.8 362.3,332.3 363.6,335.0 365.0,337.8 366.3,340.7 367.6,343.6 368.9,346.6 370.2,349.6 371.5,352.6 372.8,355.7 374.1,358.8 375.4,362.0 376.8,365.3 378.1,368.6 379.4,371.8 380.7,375.0 382.0,378.2 383.3,381.3 384.6,384.4 385.9,387.5 387.3,390.6 388.6,393.7 389.9,396.7 391.2,399.6 392.5,402.5 393.8,405.4 395.1,408.3 396.4,411.1 397.7,413.7 399.1,416.4 400.4,419.0 401.7,421.5 403.0,424.0 404.3,426.4 405.6,428.7 406.9,430.8 408.2,432.8 409.5,434.8 410.9,436.6 412.2,438.4 413.5,440.2 414.8,441.9 416.1,443.5 417.4,445.1 418.7,446.7 420.0,448.3 421.4,449.8 422.7,451.3 424.0,452.7 425.3,454.0 426.6,455.3 427.9,456.5 429.2,457.6 430.5,458.7 431.8,459.7 433.2,460.7 434.5,461.7 435.8,462.6 437.1,463.5 438.4,464.4 439.7,465.3 441.0,466.1 442.3,466.9 443.6,467.7 445.0,468.5 446.3,469.3 447.6,470.0 448.9,470.7 450.2,471.3 451.5,472.0 452.8,472.6 454.1,473.2 455.5,473.8 456.8,474.3 458.1,474.8 459.4,475.3 460.7,475.8 462.0,476.3 463.3,476.7 464.6,477.2 465.9,477.6 467.3,478.0 468.6,478.3 469.9,478.7 471.2,479.1 472.5,479.5 473.8,479.8 475.1,480.1 476.4,480.5 477.7,480.8 479.1,481.0 480.4,481.3 481.7,481.6 483.0,481.9 484.3,482.1 485.6,482.4 486.9,482.6 488.2,482.8 489.6,483.1 490.9,483.3 492.2,483.5 493.5,483.7 494.8,483.9 496.1,484.1 497.4,484.3 498.7,484.5 500.0,484.7 501.4,484.9 502.7,485.1 504.0,485.3 505.3,485.5 506.6,485.7 507.9,485.9 509.2,486.1 510.5,486.2 511.8,486.4 513.2,486.6 514.5,486.7 515.8,486.9 517.1,487.0 518.4,487.2 519.7,487.3 521.0,487.5 522.3,487.6 523.7,487.7 525.0,487.8 526.3,487.9 527.6,488.0 528.9,488.1 530.2,488.2 531.5,488.3 532.8,488.4 534.1,488.5 535.5,488.6 536.8,488.7 538.1,488.8 539.4,488.9 540.7,489.0 542.0,489.1 543.3,489.2 544.6,489.3 545.9,489.4 547.3,489.4 548.6,489.5 549.9,489.6 551.2,489.7 552.5,489.8 553.8,489.9 555.1,489.9 556.4,490.0 557.8,490.1 559.1,490.2 560.4,490.3 561.7,490.4 563.0,490.5 564.3,490.6 565.6,490.6 566.9,490.7 568.2,490.8 569.6,490.9 570.9,491.0 572.2,491.0 573.5,491.1 574.8,491.2 576.1,491.3 577.4,491.3 578.7,491.4 580.0,491.4 581.4,491.5 582.7,491.6 584.0,491.6 585.3,491.7 586.6,491.7 587.9,491.8 589.2,491.8 590.5,491.9 591.9,491.9 593.2,492.0 594.5,492.0 595.8,492.1 597.1,492.1"/>
</g>
<path d="M336.1 491.2h9M336.1 453.6h5M336.1 416.1h9M336.1 378.6h5M336.1 341.0h9M336.1 303.4h5M336.1 265.9h9M408.6 529.0v-5M481.1 529.0v-9M553.6 529.0v-5" fill="none" stroke="#000" stroke-width="2"/>
<path d="M586 265.8H336.1V529.0H586" fill="none" stroke="#000" stroke-width="2"/>
<g font-family="Liberation Sans, sans-serif" font-size="20.6" fill="#000" stroke="#000" stroke-width="0.22">
<text x="326.5" y="498.4" text-anchor="end">0.0</text>
<text x="326.5" y="423.3" text-anchor="end">0.5</text>
<text x="326.5" y="348.2" text-anchor="end">1.0</text>
<text x="326.5" y="273.1" text-anchor="end">1.5</text>
<text x="336.1" y="554.5" text-anchor="middle">0</text>
<text x="481.1" y="554.5" text-anchor="middle">2</text>
<text x="526.4" y="557.2" font-size="21">radius</text>
</g>
<rect x="512.8" y="252.2" width="100" height="108.5" fill="#fff" stroke="#555" stroke-width="0.9"/>
<rect x="538.8" y="267.1" width="9.4" height="9.4" fill="#fff" stroke="#0f0" stroke-width="1.9"/>
<text x="571.8" y="279.1" font-family="Liberation Serif, serif" font-size="22">θ</text>
<rect x="538.8" y="300.5" width="9.4" height="9.4" fill="#fff" stroke="#00f" stroke-width="1.9"/>
<text x="571.8" y="312.5" font-family="Liberation Serif, serif" font-size="22">θ</text>
<rect x="538.8" y="334.0" width="9.4" height="9.4" fill="#fff" stroke="#0ff" stroke-width="1.9"/>
<text x="571.8" y="346.0" font-family="Liberation Serif, serif" font-size="22">θ</text>
</svg>
</body></html>
